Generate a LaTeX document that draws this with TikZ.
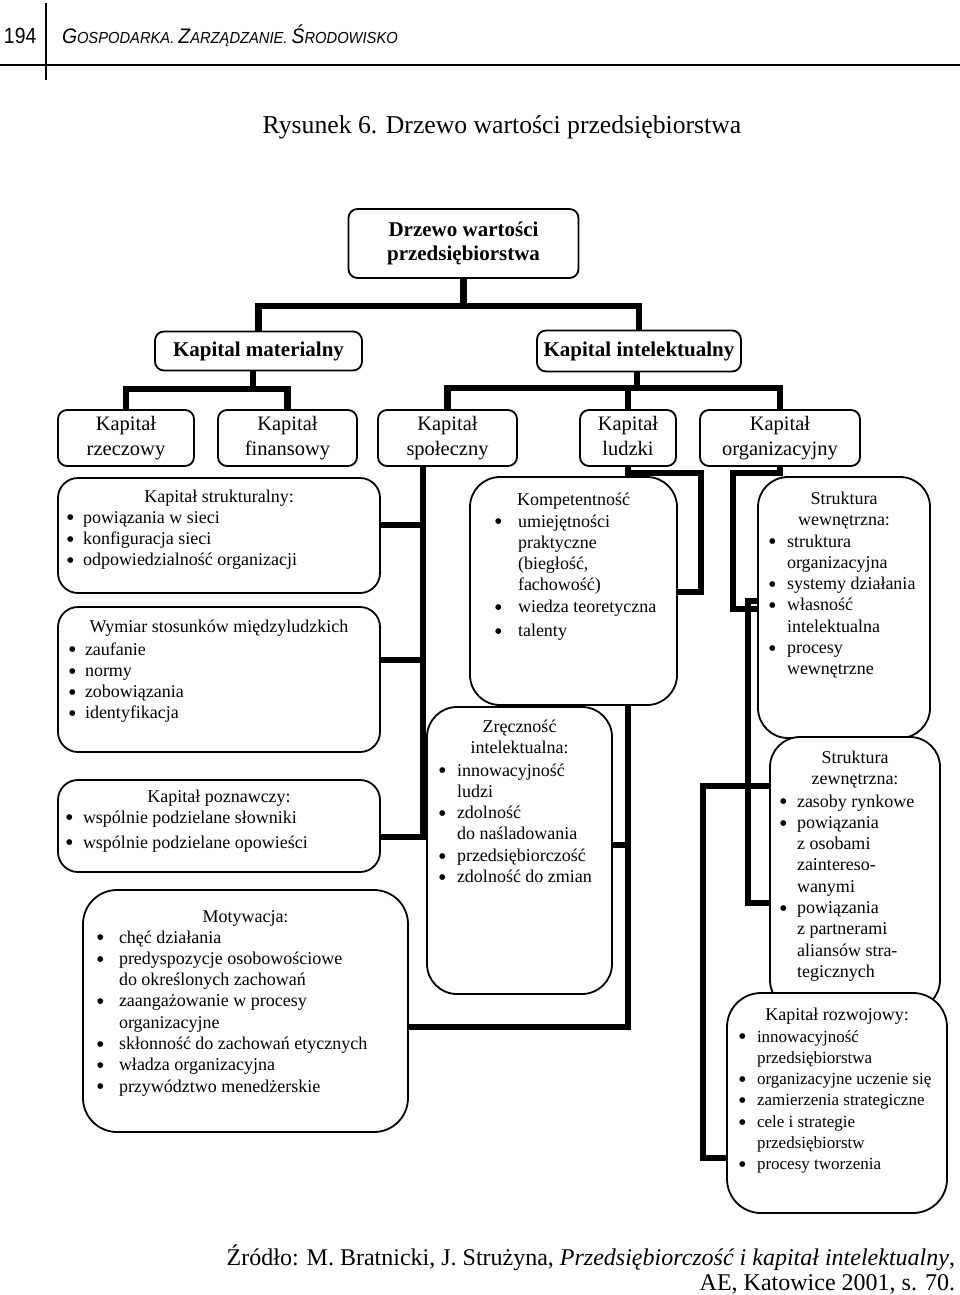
\documentclass[tikz,border=0pt]{standalone}
\usepackage{fontspec}
\setmainfont{Liberation Serif}
\setsansfont{Liberation Sans}
\newfontfamily\dejavu{DejaVu Sans}
\usepackage{graphicx}
\usetikzlibrary{backgrounds}
\newlength\bw
\newcommand\bdot{\raisebox{3.2pt}{\dejavu\fontsize{7.5}{7.5}\selectfont ●}}
\newcommand\bl[1]{\hbox{\llap{\makebox[\bw][l]{\bdot}}#1}}
\newcommand\cl[1]{\hbox{#1}}
\newcommand\lst[2]{\vtop{\setlength\bw{#1}\fontsize{18}{21.3}\selectfont #2}}
\newcommand\lstsm[2]{\vtop{\setlength\bw{#1}\fontsize{17}{21.3}\selectfont #2}}
\newcommand\ctr[1]{\vtop{\fontsize{18}{21.3}\selectfont\halign{\hfil##\hfil\cr#1\crcr}}}
\newcommand\hbig[1]{{\fontsize{21}{21}\selectfont #1}}
\newcommand\hsm[1]{{\fontsize{16}{16}\selectfont #1}}
\begin{document}
\begin{tikzpicture}[x=1pt,y=-1pt,
  rbox/.style={draw, line width=1.8pt, rounded corners=#1, fill=white, inner sep=0pt, outer sep=0pt},
  rbox/.default=10pt,
  conn/.style={line width=6.5pt},
  tnode/.style={inner sep=0pt, outer sep=0pt},
  lvl/.style={rbox=9pt, align=center, font=\fontsize{20.5}{25}\selectfont, minimum height=56pt},
  topb/.style={rbox=9pt, align=center, font=\bfseries\fontsize{21}{24}\selectfont},
]
\useasboundingbox (0,0) rectangle (960,1295);

% header
\node[tnode, anchor=base west, font=\sffamily\fontsize{22}{22}\selectfont] (pgno) at (4,44) {\scalebox{0.88}[1]{194}};
\node[tnode, anchor=base west, font=\sffamily\itshape\fontsize{16}{16}\selectfont] (hdr) at (62,44) {\scalebox{0.92}[1]{\hbig{G}\hsm{OSPODARKA.} \hbig{Z}\hsm{ARZĄDZANIE.} \hbig{Ś}\hsm{RODOWISKO}}};
\draw[line width=1.5pt] (46,3) -- (46,80);
\draw[line width=1.5pt] (0,65) -- (960,65);

\node[tnode, anchor=base, font=\fontsize{25.7}{30}\selectfont] (title) at (502,134) {Rysunek 6. Drzewo wartości przedsiębiorstwa};

% top boxes
\node[topb, minimum width=230pt, minimum height=69pt] (root) at (463.5,243.5) {Drzewo wartości\\przedsiębiorstwa};
\node[topb, minimum width=207pt, minimum height=39pt] (mat) at (258.5,351) {Kapital materialny};
\node[topb, minimum width=204pt, minimum height=41pt] (int) at (639,351) {Kapital intelektualny};

\node[lvl, minimum width=136pt] (rz) at (126,438) {Kapitał\\rzeczowy};
\node[lvl, minimum width=139pt] (fin) at (287.5,438) {Kapitał\\finansowy};
\node[lvl, minimum width=139pt] (spo) at (447.5,438) {Kapitał\\społeczny};
\node[lvl, minimum width=96pt] (lud) at (628,438) {Kapitał\\ludzki\vphantom{y}};
\node[lvl, minimum width=160pt] (org) at (780,438) {Kapitał\\organizacyjny};

% content boxes
\node[rbox=20pt, minimum width=322pt, minimum height=115pt] (ks) at (219,535.5) {};
\node[rbox=20pt, minimum width=322pt, minimum height=145pt] (wy) at (219,679.5) {};
\node[rbox=20pt, minimum width=322pt, minimum height=92pt] (kp) at (219,826) {};
\node[rbox=34pt, minimum width=325pt, minimum height=242pt] (mo) at (245.5,1011) {};
\node[rbox=30pt, minimum width=207pt, minimum height=228pt] (ko) at (573.5,591) {};
\node[rbox=30pt, minimum width=185pt, minimum height=287pt] (zr) at (519.5,850.5) {};
\node[rbox=30pt, minimum width=172pt, minimum height=261pt] (sw) at (844,607.5) {};
\node[rbox=30pt, minimum width=170pt, minimum height=273pt] (sz) at (855,873.5) {};
\node[rbox=34pt, minimum width=220pt, minimum height=220pt] (kr) at (837,1103) {};

% texts
\node[tnode, anchor=base] (ks-t) at (219,502) {\ctr{Kapitał strukturalny:}};
\node[tnode, anchor=base west] (ks-l) at (83,523) {\lst{16pt}{\bl{powiązania w sieci}\bl{konfiguracja sieci}\bl{odpowiedzialność organizacji}}};

\node[tnode, anchor=base] (wy-t) at (219,632) {\ctr{Wymiar stosunków międzyludzkich}};
\node[tnode, anchor=base west] (wy-l) at (85,655) {\lst{16pt}{\bl{zaufanie}\bl{normy}\bl{zobowiązania}\bl{identyfikacja}}};

\node[tnode, anchor=base] (kp-t) at (219,802) {\ctr{Kapitał poznawczy:}};
\node[tnode, anchor=base west] (kp-l) at (83,823) {\lst{17pt}{\bl{wspólnie podzielane słowniki}\vskip3.7pt\bl{wspólnie podzielane opowieści}}};

\node[tnode, anchor=base] (mo-t) at (245.5,922) {\ctr{Motywacja:}};
\node[tnode, anchor=base west] (mo-l) at (119,943) {\lst{22pt}{\bl{chęć działania}\bl{predyspozycje osobowościowe}\cl{do określonych zachowań}\bl{zaangażowanie w procesy}\cl{organizacyjne}\bl{skłonność do zachowań etycznych}\bl{władza organizacyjna}\bl{przywództwo menedżerskie}}};

\node[tnode, anchor=base] (ko-t) at (573.5,505) {\ctr{Kompetentność}};
\node[tnode, anchor=base west] (ko-l) at (518,527) {\lst{23pt}{\bl{umiejętności}\cl{praktyczne}\cl{(biegłość,}\cl{fachowość)}\bl{wiedza teoretyczna}\vskip3pt\bl{talenty}}};

\node[tnode, anchor=base] (zr-t) at (519.5,732) {\ctr{Zręczność\cr intelektualna:}};
\node[tnode, anchor=base west] (zr-l) at (457,776) {\lst{18pt}{\bl{innowacyjność}\cl{ludzi}\bl{zdolność}\cl{do naśladowania}\bl{przedsiębiorczość}\bl{zdolność do zmian}}};

\node[tnode, anchor=base] (sw-t) at (844,504) {\ctr{Struktura\cr wewnętrzna:}};
\node[tnode, anchor=base west] (sw-l) at (787,547) {\lst{18pt}{\bl{struktura}\cl{organizacyjna}\bl{systemy działania}\bl{własność}\cl{intelektualna}\bl{procesy}\cl{wewnętrzne}}};

\node[tnode, anchor=base] (sz-t) at (855,763) {\ctr{Struktura\cr zewnętrzna:}};
\node[tnode, anchor=base west] (sz-l) at (797,807) {\lst{17pt}{\bl{zasoby rynkowe}\bl{powiązania}\cl{z osobami}\cl{zaintereso-}\cl{wanymi}\bl{powiązania}\cl{z partnerami}\cl{aliansów stra-}\cl{tegicznych}}};

\node[tnode, anchor=base] (kr-t) at (837,1020) {\ctr{Kapitał rozwojowy:}};
\node[tnode, anchor=base west] (kr-l) at (757,1042) {\lstsm{18pt}{\bl{innowacyjność}\cl{przedsiębiorstwa}\bl{organizacyjne uczenie się}\bl{zamierzenia strategiczne}\bl{cele i strategie}\cl{przedsiębiorstw}\bl{procesy tworzenia}}};

% source
\node[tnode, anchor=base east, font=\fontsize{24}{25}\selectfont] (src1) at (955,1265) {Źródło: M. Bratnicki, J. Strużyna, \textit{Przedsiębiorczość i kapitał intelektualny},};
\node[tnode, anchor=base east, font=\fontsize{24}{25}\selectfont] (src2) at (955,1290) {AE, Katowice 2001, s. 70.};

% connectors
\begin{scope}[on background layer]
\coordinate (rj) at (463.5,306);
\draw[conn] (root.south) -- (rj);
\draw[conn] (mat.north) |- (rj) -| (int.north);
\coordinate (mj) at (253,389);
\draw[conn] (mat.south -| mj) -- (mj);
\draw[conn] (rz.north) |- (mj) -| (fin.north);
\coordinate (ij) at (637,388);
\draw[conn] (int.south -| ij) -- (ij);
\draw[conn] (spo.north) |- (ij) -| (org.north);
\draw[conn] (lud.north) -- (lud.north |- ij);
% spoleczny
\coordinate (sT) at (423,466);
\draw[conn] (sT) |- (kp.east |- 0,837);
\draw[conn] (ks.east |- 0,525) -- (sT |- 0,525);
\draw[conn] (wy.east |- 0,660) -- (sT |- 0,660);
% ludzki
\draw[conn] (lud.south) |- (mo.east |- 0,1027);
\draw[conn] (zr.east |- 0,845) -- (lud.south |- 0,845);
\draw[conn] (lud.south) -- ++(0,7) -- ++(73,0) |- (ko.east |- 0,592);
% organizacyjny
\draw[conn] (org.south) -- ++(0,7) -- ++(-47,0) |- (sw.west |- 0,609);
\draw[conn] (sw.west |- 0,601) -- ++(-10,0) |- (sz.west |- 0,903);
\draw[conn] (sz.west |- 0,786) -- ++(-67,0) |- (kr.west |- 0,1158);
\end{scope}
\end{tikzpicture}
\end{document}
